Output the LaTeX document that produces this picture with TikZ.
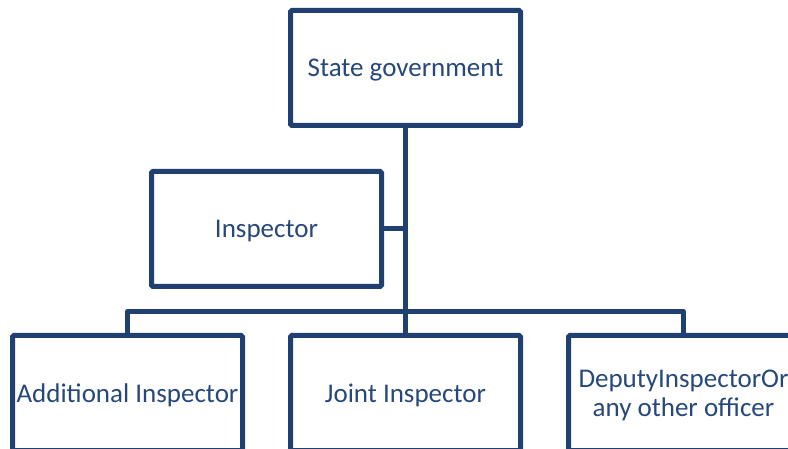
\documentclass[tikz,border=0pt]{standalone}
\usepackage{fontspec}
\setmainfont{Carlito}
\definecolor{navy}{RGB}{31,64,112}
\definecolor{inktext}{RGB}{38,72,122}
\begin{document}
\begin{tikzpicture}[x=1pt,y=-1pt,
  boxtext/.style={text=inktext, font=\fontsize{27}{29.3}\selectfont,
    align=center, inner sep=0pt, yshift=-2.5pt},
  orgbox/.style={draw=navy, line width=5pt, rounded corners=1.5pt, fill=white,
    minimum width=230pt, minimum height=115pt, inner sep=0pt,
    label={[boxtext]center:#1}},
  link/.style={draw=navy, line width=5pt, line join=round, line cap=butt}]
  \path[use as bounding box, clip] (0,0) rectangle (788,449);
  \fill[white] (0,0) rectangle (788,449);

  % boxes
  \node[orgbox={State government}]   (gov)   at (405.5,68)  {};
  \node[orgbox={Inspector}]          (insp)  at (266.5,229) {};
  \node[orgbox={Additional Inspector}] (addl) at (127.5,393) {};
  \node[orgbox={Joint Inspector}]    (joint) at (405.5,393) {};
  \node[orgbox={DeputyInspectorOr\\any other officer}] (dep) at (683.5,393) {};

  % connectors
  \coordinate (bus) at (405.5,311.5);
  \draw[link] (gov.south) -- (joint.north);
  \draw[link] (insp.east) -- (insp.east -| gov.south);
  \draw[link] (addl.north) |- (bus) -| (dep.north);
\end{tikzpicture}
\end{document}
